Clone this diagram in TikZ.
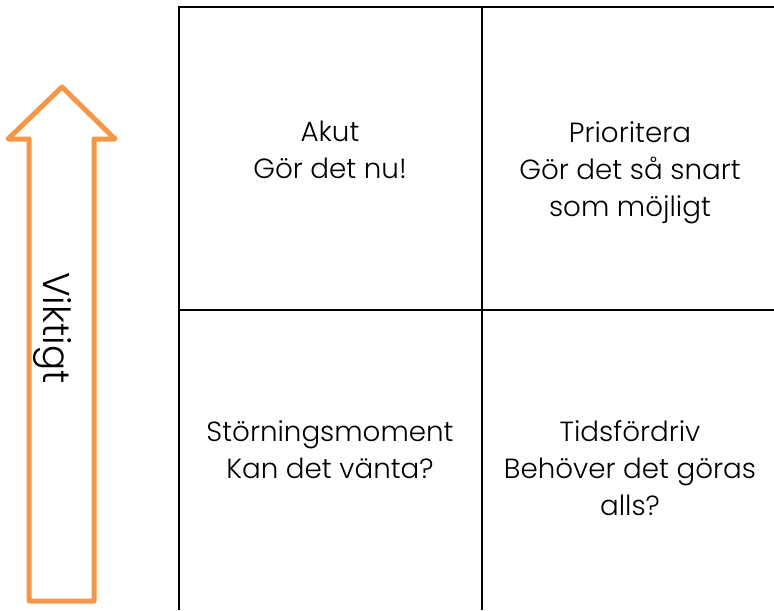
\documentclass[tikz,border=0pt]{standalone}
\usepackage{fontspec}
\setmainfont{Poppins}[UprightFont=* Light]
\definecolor{arroworange}{HTML}{F79646}
\tikzset{
  cell/.style={anchor=north, align=center, inner sep=0pt, font=\fontsize{20.8}{27.75}\selectfont},
  grid/.style={line width=1.8pt, black},
  bigarrow/.style={line width=3.75pt, arroworange, line join=round, line cap=round}
}
\begin{document}
\begin{tikzpicture}[x=0.75pt, y=-0.75pt]
        \useasboundingbox (0,0) rectangle (774,610);
        % Grid
        \draw[grid] (179,610) -- (179,7) -- (774,7);
        \draw[grid] (482,7) -- (482,610);
        \draw[grid] (179,310) -- (774,310);

        % Arrow
        \draw[bigarrow] (29,601) -- (29,139) -- (8,139) -- (62,87) -- (115,139) -- (94,139) -- (94,601) -- cycle;
        \node (viktigt) [rotate=-90, inner sep=0pt, font=\fontsize{28}{32}\selectfont] at (53,328) {Viktigt};

        % Nodes
        \node (akut) [cell] at (330,121) {Akut\\Gör det nu!};
        \node (prio) [cell] at (630,121) {Prioritera\\Gör det så snart\\som möjligt};
        \node (storn) [cell] at (330,420) {Störningsmoment\\Kan det vänta?};
        \node (tids) [cell] at (630,420) {Tidsfördriv\\Behöver det göras\\alls?};
    \end{tikzpicture}
\end{document}
